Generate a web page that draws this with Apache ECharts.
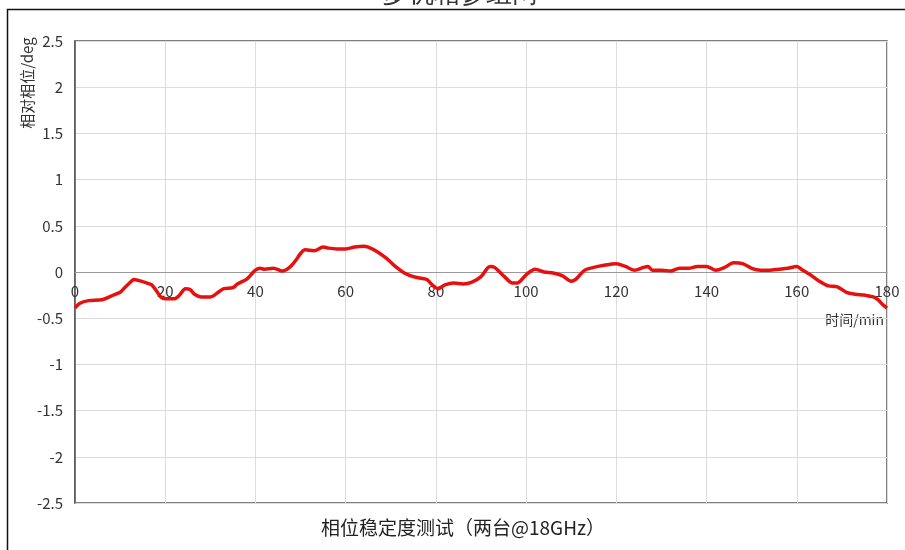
<!DOCTYPE html>
<html>
<head>
<meta charset="utf-8">
<script src="https://cdn.jsdelivr.net/npm/echarts@6/dist/echarts.min.js"></script>
<style>
html,body{margin:0;padding:0;background:#fff;}
#chart{width:905px;height:550px;}
</style>
</head>
<body>
<div id="chart"></div>
<script>
// Measurement time (min) and relative phase (deg)
const timeMin = [0,1,3,6,8,10,11,12.5,13,14,16,17,18,19,20,22,23,24.5,25.5,26.5,28,30,32,33,35,36,38,39,40,41,42,44,46,47,48,49,50,51,53,55,56,58,60,62,64,65,67,69,71,73,75,77,78,79,80.5,82,84,86,88,90,92,93,95,97,98,100,102,104,106,108,110,111,113,115,117,120,122,124,126,127,128,130,132,134,136,138,140,142,144,146,148,150,152,154,156,158,160,161,163,165,167,169,171,173,175,177,178,179,180];
const phaseDeg = [-0.39,-0.34,-0.31,-0.30,-0.26,-0.22,-0.17,-0.10,-0.08,-0.09,-0.12,-0.14,-0.20,-0.27,-0.29,-0.29,-0.26,-0.18,-0.19,-0.24,-0.27,-0.27,-0.21,-0.18,-0.17,-0.13,-0.08,-0.03,0.02,0.04,0.03,0.04,0.01,0.03,0.07,0.13,0.20,0.24,0.23,0.27,0.26,0.25,0.25,0.27,0.28,0.27,0.22,0.15,0.06,-0.01,-0.05,-0.07,-0.08,-0.13,-0.18,-0.14,-0.12,-0.13,-0.11,-0.05,0.06,0.05,-0.04,-0.12,-0.12,-0.03,0.03,0.00,-0.01,-0.04,-0.10,-0.08,0.02,0.05,0.07,0.09,0.06,0.02,0.05,0.06,0.02,0.02,0.01,0.04,0.04,0.06,0.06,0.02,0.05,0.10,0.09,0.04,0.02,0.02,0.03,0.04,0.06,0.03,-0.03,-0.10,-0.15,-0.16,-0.22,-0.24,-0.25,-0.27,-0.30,-0.35,-0.39];
const xTicks = [0,20,40,60,80,100,120,140,160,180];
const yTicks = [-2.5,-2,-1.5,-1,-0.5,0,0.5,1,1.5,2,2.5];

const FONT = '"Noto Sans CJK SC", "Noto Sans", sans-serif';
const GRID = {left: 75, right: 18, top: 41, bottom: 47};
const PLOT_H = 550 - GRID.top - GRID.bottom;
const yMin = yTicks[0], yMax = yTicks[yTicks.length - 1];
// shift the time axis up from the plot bottom to the zero-phase line
const zeroOffset = -PLOT_H * (0 - yMin) / (yMax - yMin);

const chart = echarts.init(document.getElementById('chart'), null, {renderer: 'canvas'});

chart.setOption({
  animation: false,
  backgroundColor: '#fff',
  textStyle: {fontFamily: FONT},
  grid: Object.assign({show: true, borderColor: '#555', borderWidth: 1.5}, GRID),
  xAxis: {
    type: 'value',
    position: 'bottom',
    offset: zeroOffset,
    min: xTicks[0], max: xTicks[xTicks.length - 1], interval: 20,
    axisLine: {onZero: false, lineStyle: {color: '#999', width: 1}},
    axisTick: {show: false},
    axisLabel: {color: '#333', fontSize: 15, margin: 12, fontFamily: FONT},
    splitLine: {show: true, lineStyle: {color: '#dcdcdc', width: 1}}
  },
  yAxis: {
    type: 'value',
    min: yMin, max: yMax, interval: 0.5,
    axisLine: {show: true, lineStyle: {color: '#555', width: 1.5}},
    axisTick: {show: false},
    axisLabel: {color: '#333', fontSize: 15, margin: 12, fontFamily: FONT},
    splitLine: {show: true, lineStyle: {color: '#dcdcdc', width: 1}}
  },
  series: [{
    type: 'line',
    data: timeMin.map((t, i) => [t, phaseDeg[i]]),
    showSymbol: false,
    smooth: 0.3,
    lineStyle: {color: '#e8100f', width: 3.5},
    z: 5
  }],
  graphic: [
    {type: 'rect', shape: {x: 7.5, y: 9.5, width: 1000, height: 1000},
     style: {fill: null, stroke: '#111', lineWidth: 1.5}, silent: true},
    {type: 'text', x: 460, y: -18,
     style: {text: '多机相参组网', fontSize: 26, fill: '#333', font: '26px ' + FONT, textAlign: 'center'}},
    {type: 'text', x: 27, y: 83, rotation: Math.PI / 2,
     style: {text: '相对相位/deg', font: '15px ' + FONT, fill: '#333', textAlign: 'center', textVerticalAlign: 'middle'}},
    {type: 'text', x: 884, y: 320,
     style: {text: '时间/min', font: '14px ' + FONT, fill: '#333', textAlign: 'right', textVerticalAlign: 'middle'}},
    {type: 'text', x: 463, y: 528,
     style: {text: '相位稳定度测试（两台@18GHz）', font: '19px ' + FONT, fill: '#222', textAlign: 'center', textVerticalAlign: 'middle'}}
  ]
});
</script>
</body>
</html>
